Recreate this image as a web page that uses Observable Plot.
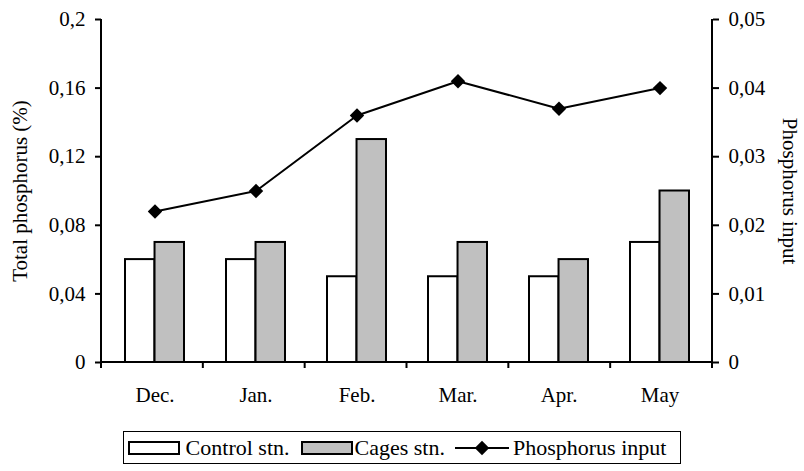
<!DOCTYPE html>
<html>
<head>
<meta charset="utf-8">
<script src="https://cdn.jsdelivr.net/npm/d3@7"></script>
<script src="https://cdn.jsdelivr.net/npm/@observablehq/plot@0.6"></script>
<style>
  html, body { margin: 0; padding: 0; background: #fff; }
  body { width: 804px; height: 471px; overflow: hidden; font-family: "Liberation Serif", "Times New Roman", serif; }
  svg text { font-family: "Liberation Serif", "Times New Roman", serif !important; }
  #legend { display: flex; justify-content: center; margin-top: 11px; }
  #legend .box { display: flex; align-items: center; border: 1.5px solid #000; height: 33px; padding: 0 14px 0 4px; font-size: 22px; color: #000; box-sizing: border-box; }
  #legend .sw { display: inline-block; width: 48px; height: 10px; border: 2px solid #000; }
  #legend .item { display: flex; align-items: center; }
</style>
</head>
<body>
<div id="chart"></div>
<script>
// ---- data ----
const months = ["Dec.", "Jan.", "Feb.", "Mar.", "Apr.", "May"];
const controlStn = [0.06, 0.06, 0.05, 0.05, 0.05, 0.07];
const cagesStn = [0.07, 0.07, 0.13, 0.07, 0.06, 0.10];
const phosphorusInput = [0.022, 0.025, 0.036, 0.041, 0.037, 0.040];
const leftTicks = [0, 0.04, 0.08, 0.12, 0.16, 0.2];
const rightTicks = [0, 0.01, 0.02, 0.03, 0.04, 0.05];
const seriesNames = ["Control stn.", "Cages stn.", "Phosphorus input"];

// ---- layout ----
const W = 804, H = 420;
const mL = 101, mR = 92, mT = 19, mB = 58;
const padInner = 0.42;
const bandW = ((W - mL - mR) / months.length) * (1 - padInner);
const k = 0.2 / 0.05; // right axis -> left axis scale factor
const serif = "'Liberation Serif', 'Times New Roman', serif";

const control = months.map((m, i) => ({month: m, value: controlStn[i]}));
const cages = months.map((m, i) => ({month: m, value: cagesStn[i]}));
const input = months.map((m, i) => ({month: m, value: phosphorusInput[i] * k}));

const comma = d => d === 0 ? "0" : String(d).replace(".", ",");
const comma2 = d => d === 0 ? "0" : d3.format(".2f")(d).replace(".", ",");

const frameLines = (index, scales, values, dims) => {
  const y = scales.y;
  const left = dims.marginLeft, right = dims.width - dims.marginRight;
  const step = (right - left) / months.length;
  const y0 = y(0), yTop = y(0.2);
  const g = d3.create("svg:g").attr("stroke", "#000").attr("stroke-width", 2).attr("fill", "none");
  g.append("line").attr("x1", left).attr("x2", left).attr("y1", yTop).attr("y2", y0);
  g.append("line").attr("x1", right).attr("x2", right).attr("y1", yTop).attr("y2", y0);
  g.append("line").attr("x1", left - 1).attr("x2", right + 1).attr("y1", y0).attr("y2", y0);
  d3.range(months.length + 1).forEach(i => {
    const x = left + i * step;
    g.append("line").attr("x1", x).attr("x2", x).attr("y1", y0).attr("y2", y0 + 6);
  });
  return g.node();
};

const chart = Plot.plot({
  width: W,
  height: H,
  marginLeft: mL,
  marginRight: mR,
  marginTop: mT,
  marginBottom: mB,
  style: {fontFamily: serif, fontSize: "21px", color: "#000", background: "#fff", overflow: "visible"},
  x: {type: "band", domain: months, paddingInner: padInner, paddingOuter: padInner / 2, label: null},
  y: {domain: [0, 0.2], label: null},
  marks: [
    Plot.barY(control, {x: "month", y: "value", fill: "#fff", stroke: "#000", strokeWidth: 2, insetRight: bandW / 2}),
    Plot.barY(cages, {x: "month", y: "value", fill: "#c0c0c0", stroke: "#000", strokeWidth: 2, insetLeft: bandW / 2}),
    Plot.line(input, {x: "month", y: "value", stroke: "#000", strokeWidth: 2}),
    Plot.dot(input, {x: "month", y: "value", symbol: "diamond2", r: 6.5, fill: "#000", stroke: "none"}),
    frameLines,
    Plot.axisY({anchor: "left", ticks: leftTicks, tickFormat: comma, tickSize: 6, tickPadding: 10, strokeWidth: 2, fontSize: 21, label: null}),
    Plot.axisY({anchor: "right", ticks: rightTicks.map(v => v * k), tickFormat: d => comma2(d / k), tickSize: 6, tickPadding: 10, strokeWidth: 2, fontSize: 21, label: null}),
    Plot.axisX({anchor: "bottom", tickSize: 0, tickPadding: 25, fontSize: 21, label: null}),
    Plot.text(["Total phosphorus (%)"], {frameAnchor: "left", rotate: -90, dx: -81, text: d => d, textAnchor: "middle", fontSize: 21}),
    Plot.text(["Phosphorus input"], {frameAnchor: "right", rotate: 90, dx: 77, text: d => d, textAnchor: "middle", fontSize: 21})
  ]
});
document.getElementById("chart").appendChild(chart);

// ---- legend ----
const legend = d3.select("body").append("div").attr("id", "legend").append("div").attr("class", "box");
const it1 = legend.append("div").attr("class", "item");
it1.append("span").attr("class", "sw").style("background", "#fff");
it1.append("span").style("margin-left", "6px").style("margin-right", "11px").text(seriesNames[0]);
const it2 = legend.append("div").attr("class", "item");
it2.append("span").attr("class", "sw").style("background", "#c0c0c0");
it2.append("span").style("margin-left", "2px").style("margin-right", "10px").text(seriesNames[1]);
const it3 = legend.append("div").attr("class", "item");
const sv = it3.append("svg").attr("width", 54).attr("height", 18);
sv.append("line").attr("x1", 0).attr("x2", 54).attr("y1", 9).attr("y2", 9).attr("stroke", "#000").attr("stroke-width", 2);
sv.append("path").attr("d", d3.symbol(d3.symbolDiamond2, Math.PI * 6.5 * 6.5)()).attr("transform", "translate(27,9)").attr("fill", "#000");
it3.append("span").style("margin-left", "4px").text(seriesNames[2]);
</script>
</body>
</html>
